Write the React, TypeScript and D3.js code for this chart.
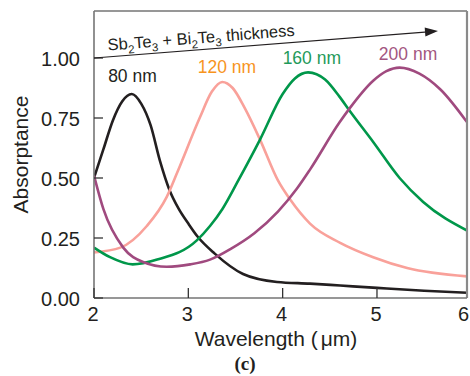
import React, { useEffect, useRef } from 'react';
import * as d3 from 'd3';

// wavelength (µm) / absorptance for each thickness
const WL_80 = [2.0, 2.1, 2.2, 2.3, 2.4, 2.5, 2.6, 2.7, 2.8, 2.9, 3.0, 3.1, 3.28, 3.58, 3.94, 4.29, 4.61, 5.0, 5.5, 5.96];
const AB_80 = [0.50, 0.62, 0.74, 0.82, 0.85, 0.81, 0.72, 0.57, 0.45, 0.37, 0.31, 0.255, 0.185, 0.10, 0.067, 0.060, 0.052, 0.042, 0.03, 0.022];

const WL_120 = [2.0, 2.28, 2.56, 2.77, 2.89, 3.12, 3.25, 3.36, 3.47, 3.6, 3.76, 3.95, 4.08, 4.29, 4.61, 4.96, 5.32, 5.96];
const AB_120 = [0.19, 0.21, 0.30, 0.42, 0.53, 0.75, 0.86, 0.90, 0.875, 0.79, 0.66, 0.49, 0.41, 0.31, 0.23, 0.17, 0.125, 0.09];

const WL_160 = [2.0, 2.17, 2.41, 2.67, 3.09, 3.23, 3.36, 3.53, 3.76, 4.0, 4.13, 4.27, 4.45, 4.6, 4.71, 4.96, 5.24, 5.49, 5.96];
const AB_160 = [0.21, 0.17, 0.14, 0.16, 0.24, 0.30, 0.37, 0.49, 0.66, 0.85, 0.915, 0.94, 0.91, 0.84, 0.78, 0.65, 0.50, 0.40, 0.28];

const WL_200 = [2.0, 2.1, 2.31, 2.52, 2.77, 3.02, 3.23, 3.45, 3.7, 3.95, 4.15, 4.29, 4.6, 4.71, 4.96, 5.1, 5.24, 5.45, 5.67, 5.96];
const AB_200 = [0.51, 0.37, 0.21, 0.15, 0.13, 0.14, 0.16, 0.205, 0.27, 0.36, 0.455, 0.535, 0.73, 0.79, 0.905, 0.945, 0.96, 0.935, 0.87, 0.73];

const SERIES = [
  { name: '80 nm', wl: WL_80, ab: AB_80, stroke: '#231f20', labelColor: '#231f20', lx: 2.15, ly: 0.90 },
  { name: '120 nm', wl: WL_120, ab: AB_120, stroke: '#f9a19a', labelColor: '#f7941d', lx: 3.10, ly: 0.9375 },
  { name: '160 nm', wl: WL_160, ab: AB_160, stroke: '#00974a', labelColor: '#1f9a5a', lx: 4.0, ly: 0.975 },
  { name: '200 nm', wl: WL_200, ab: AB_200, stroke: '#a04a7f', labelColor: '#a3567f', lx: 5.02, ly: 0.992 },
];

const X_TICKS = [2, 3, 4, 5, 6];
const Y_TICKS = [0, 0.25, 0.5, 0.75, 1.0];

export default function App() {
  const svgRef = useRef<SVGSVGElement>(null);

  const W = 470;
  const H = 376;

  useEffect(() => {
    const svg = d3.select(svgRef.current);
    svg.selectAll('*').remove();

    const x = d3.scaleLinear().domain([2, 6]).range([94, 471.3]);
    const y = d3.scaleLinear().domain([0, 1.2]).range([298, 10]);
    const left = x(2), right = 467, top = 11, bottom = y(0);

    svg.append('defs').append('clipPath').attr('id', 'plotclip')
      .append('rect').attr('x', left).attr('y', top).attr('width', right - left).attr('height', bottom - top);

    // curves
    const line = d3.line<[number, number]>()
      .x(d => x(d[0]))
      .y(d => y(d[1]))
      .curve(d3.curveMonotoneX);

    const curves = svg.append('g').attr('clip-path', 'url(#plotclip)');
    SERIES.forEach(s => {
      const pts: [number, number][] = s.wl.map((w, i) => [w, s.ab[i]]);
      curves.append('path')
        .attr('d', line(pts))
        .attr('fill', 'none')
        .attr('stroke', s.stroke)
        .attr('stroke-width', 2.6)
        .attr('stroke-linejoin', 'round');
    });

    // frame
    const frame = svg.append('g').attr('stroke', '#757575').attr('fill', 'none');
    frame.append('line').attr('x1', left).attr('x2', right).attr('y1', top).attr('y2', top).attr('stroke-width', 1.5);
    frame.append('line').attr('x1', right).attr('x2', right).attr('y1', top).attr('y2', bottom).attr('stroke-width', 2.2).attr('stroke', '#8a8a8a');
    frame.append('line').attr('x1', left).attr('x2', left).attr('y1', top).attr('y2', bottom).attr('stroke-width', 1.6);
    frame.append('line').attr('x1', left).attr('x2', right).attr('y1', bottom).attr('y2', bottom).attr('stroke-width', 1.6);

    // ticks (inside)
    Y_TICKS.forEach(t => {
      svg.append('line')
        .attr('x1', left).attr('x2', left + 9)
        .attr('y1', y(t)).attr('y2', y(t))
        .attr('stroke', '#333').attr('stroke-width', 1.3);
      svg.append('text')
        .attr('x', 80).attr('y', y(t) + 8)
        .attr('text-anchor', 'end')
        .style('font-family', 'Liberation Sans, Arial, sans-serif')
        .style('font-size', '20px')
        .attr('fill', '#231f20')
        .text(t.toFixed(2));
    });
    X_TICKS.forEach(t => {
      const last = t === 6;
      if (!last) {
        svg.append('line')
          .attr('x1', x(t)).attr('x2', x(t))
          .attr('y1', bottom).attr('y2', bottom - 10)
          .attr('stroke', '#333').attr('stroke-width', 1.3);
      }
      // last label sits at the page edge, keep it inside
      svg.append('text')
        .attr('x', last ? W - 1 : x(t) - 1).attr('y', 321)
        .attr('text-anchor', last ? 'end' : 'middle')
        .style('font-family', 'Liberation Sans, Arial, sans-serif')
        .style('font-size', '20px')
        .attr('fill', '#231f20')
        .text(t);
    });

    // axis titles
    const xt = svg.append('text')
      .attr('x', 276).attr('y', 346)
      .attr('text-anchor', 'middle')
      .style('font-family', 'Liberation Sans, Arial, sans-serif')
      .style('font-size', '21px')
      .attr('fill', '#231f20');
    xt.append('tspan').text('Wavelength (');
    xt.append('tspan').attr('dx', 3).text('μm)');

    svg.append('text')
      .attr('transform', `translate(28, ${(top + bottom) / 2}) rotate(-90)`)
      .attr('text-anchor', 'middle')
      .style('font-family', 'Liberation Sans, Arial, sans-serif')
      .style('font-size', '21px')
      .attr('fill', '#231f20')
      .text('Absorptance');

    // thickness arrow
    const ax1 = left, ay1 = y(1.0), ax2 = 438, ay2 = 31;
    const ang = Math.atan2(ay2 - ay1, ax2 - ax1);
    const deg = ang * 180 / Math.PI;
    svg.append('line')
      .attr('x1', ax1).attr('y1', ay1).attr('x2', ax2 - 10 * Math.cos(ang)).attr('y2', ay2 - 10 * Math.sin(ang))
      .attr('stroke', '#231f20').attr('stroke-width', 1.2);
    svg.append('path')
      .attr('d', 'M0,0 L-13,-4.5 L-13,4.5 Z')
      .attr('transform', `translate(${ax2},${ay2}) rotate(${deg})`)
      .attr('fill', '#231f20');

    const tt = svg.append('text')
      .attr('transform', `translate(108, 50.5) rotate(${deg})`)
      .style('font-family', 'Liberation Sans, Arial, sans-serif')
      .style('font-size', '16.5px')
      .attr('fill', '#231f20');
    const parts: [string, boolean][] = [['Sb', false], ['2', true], ['Te', false], ['3', true], [' + Bi', false], ['2', true], ['Te', false], ['3', true], [' thickness', false]];
    let sub = false;
    parts.forEach(([txt, isSub]) => {
      const sp = tt.append('tspan').text(txt);
      if (isSub) {
        sp.attr('dy', 4.5).style('font-size', '11.5px');
      } else if (sub) {
        sp.attr('dy', -4.5);
      }
      sub = isSub;
    });

    // curve labels
    SERIES.forEach(s => {
      svg.append('text')
        .attr('x', x(s.lx)).attr('y', y(s.ly))
        .style('font-family', 'Liberation Sans, Arial, sans-serif')
        .style('font-size', '17.5px')
        .attr('fill', s.labelColor)
        .text(s.name);
    });

    // panel letter
    svg.append('text')
      .attr('x', 245).attr('y', 370)
      .attr('text-anchor', 'middle')
      .style('font-family', 'Liberation Serif, Times New Roman, serif')
      .style('font-size', '19px')
      .style('font-weight', 'bold')
      .attr('fill', '#231f20')
      .text('(c)');
  }, []);

  return (
    <svg ref={svgRef} width={W} height={H} style={{ position: 'absolute', left: 0, top: 0, background: '#fff' }} />
  );
}
